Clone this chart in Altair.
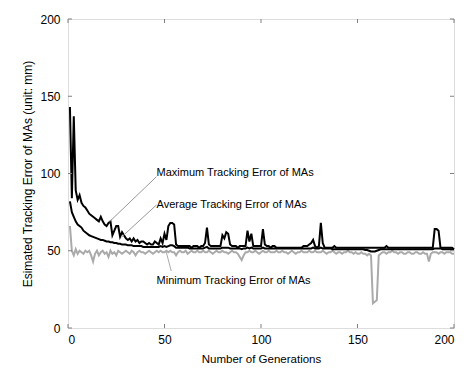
import altair as alt
import pandas as pd

gens = list(range(1, 201))

max_err = [
    143, 84, 137, 89, 83, 86, 81, 79, 78, 76,
    74, 73, 72, 71, 70, 69, 72, 69, 67, 66,
    68, 69, 60, 63, 66, 66, 59, 62, 60, 58,
    57, 58, 56, 58, 56, 57, 55, 56, 56, 55,
    54, 55, 54, 54, 56, 55, 54, 58, 55, 61,
    57, 66, 68, 68, 67, 54, 53, 53, 53, 53,
    53, 53, 53, 52, 53, 53, 53, 52, 53, 53,
    55, 65, 54, 53, 53, 53, 53, 53, 53, 60,
    58, 62, 61, 54, 53, 53, 53, 52, 53, 53,
    53, 53, 63, 56, 61, 53, 53, 53, 53, 53,
    64, 54, 53, 53, 52, 53, 53, 52, 52, 52,
    52, 52, 52, 52, 52, 52, 52, 52, 52, 52,
    52, 53, 53, 53, 54, 55, 57, 53, 52, 53,
    68, 55, 52, 52, 52, 52, 52, 53, 52, 52,
    52, 52, 52, 52, 52, 52, 52, 52, 52, 52,
    52, 52, 52, 52, 52, 52, 52, 52, 52, 52,
    52, 52, 52, 52, 53, 52, 52, 52, 52, 52,
    52, 52, 52, 52, 52, 52, 52, 52, 52, 52,
    52, 52, 52, 52, 52, 52, 52, 52, 52, 64,
    64, 63, 52, 52, 52, 52, 52, 52, 52, 51,
]

avg_err = [
    82, 75, 72, 69, 67, 66, 65, 63, 62, 61,
    60, 59.5, 59, 58.5, 58, 57.5, 57, 57, 56.5, 56,
    56, 55.5, 55.5, 55, 55, 54.5, 54.5, 54, 54, 54,
    53.5, 53.5, 53.5, 53, 53, 53, 53, 53, 52.5, 52.5,
    52.5, 52.5, 52.5, 52.5, 52.5, 52.5, 52.5, 53, 52.5, 53,
    52.5, 53, 53.5, 53.5, 53, 52, 52, 52, 52, 52,
    52, 52, 51.5, 51.5, 51.5, 51.5, 51.5, 51.5, 51.5, 51.5,
    52, 52.5, 51.5, 51.5, 51.5, 51.5, 51.5, 51.5, 51.5, 52,
    52, 52, 52, 51.5, 51.5, 51.5, 51.5, 51.5, 51.5, 51,
    51.5, 51.5, 52, 51.5, 52, 51.5, 51.5, 51.5, 51.5, 51.5,
    52, 51.5, 51.5, 51.5, 51.5, 51.5, 51.5, 51.5, 51.5, 51.5,
    51.5, 51.5, 51.5, 51.5, 51.5, 51.5, 51.5, 51.5, 51.5, 51.5,
    51.5, 51.5, 51.5, 51.5, 51.5, 51.5, 52, 51.5, 51.5, 51.5,
    52, 51.5, 51.5, 51.5, 51.5, 51.5, 51, 51, 51, 51,
    51, 51, 51, 51, 51, 51, 51, 51, 51, 51,
    51, 51, 51, 50.5, 50.5, 50, 49.5, 49.5, 49.5, 50,
    50.5, 51, 51, 51, 51, 51, 51, 51, 51, 51,
    51, 51, 51, 51, 51, 51, 51, 51, 51, 51,
    51, 51, 51, 51, 51, 51, 51, 51, 51, 51.5,
    51.5, 51.5, 51.5, 51, 51, 51, 51, 51, 51, 51,
]

min_err = [
    66, 50, 47, 51, 48, 50, 49, 48, 50, 49,
    50, 47, 43, 48, 50, 47, 49, 50, 48, 49,
    46, 50, 48, 49, 47, 50, 49, 48, 49, 50,
    49, 48, 50, 49, 47, 49, 50, 49, 49, 48,
    49, 50, 49, 48, 49, 50, 49, 50, 49, 49,
    50, 49, 50, 49, 49, 47, 49, 50, 49, 49,
    50, 48, 49, 50, 49, 49, 50, 49, 49, 50,
    49, 49, 50, 49, 48, 49, 50, 49, 49, 50,
    49, 49, 48, 49, 50, 49, 49, 48, 46, 44,
    47, 49, 49, 50, 49, 49, 50, 49, 48, 49,
    50, 49, 49, 50, 49, 49, 49, 50, 49, 49,
    50, 49, 49, 48, 49, 50, 49, 48, 49, 49,
    50, 49, 49, 49, 50, 49, 49, 50, 49, 49,
    49, 50, 49, 48, 49, 49, 50, 49, 48, 49,
    49, 48, 49, 49, 50, 49, 49, 48, 49, 48,
    48, 49, 48, 48, 47, 48, 47, 16, 17, 18,
    47, 48, 49, 49, 48, 49, 49, 50, 49, 49,
    48, 49, 49, 48, 48, 49, 49, 48, 48, 49,
    49, 48, 48, 49, 48, 48, 43, 48, 49, 49,
    49, 48, 49, 49, 48, 49, 49, 49, 48, 48,
]

tick_values = [0, 50, 100, 150, 200]

ann_labels = ["Maximum Tracking Error of MAs", "Average Tracking Error of MAs", "Minimum Tracking Error of MAs"]
ann_x = [45.9, 45.9, 45.9]
ann_y = [100.3, 79.6, 30.4]

lead_x = [45.8, 45.8, 50.9]
lead_y = [97.9, 79.6, 49.2]
lead_x2 = [21.5, 27.8, 53.5]
lead_y2 = [68.8, 58.9, 36.9]
lead_color = ["#999999", "#999999", "#aaaaaa"]

W, H = 386, 309
FONT = "Liberation Sans"

df = pd.DataFrame({"gen": gens, "maxv": max_err, "avgv": avg_err, "minv": min_err})
ticks = pd.DataFrame({"v": tick_values})
ann = pd.DataFrame({"x": ann_x, "y": ann_y, "t": ann_labels})
leads = pd.DataFrame({"x": lead_x, "y": lead_y, "x2": lead_x2, "y2": lead_y2, "c": lead_color})

xs = alt.Scale(domain=[0, 200], nice=False)
ys = alt.Scale(domain=[0, 200], nice=False)

xaxis = alt.Axis(values=tick_values, ticks=False, grid=False, domain=False, labelFont=FONT,
                 labelFontSize=12, labelColor="black", labelPadding=6, title="Number of Generations",
                 titleFont=FONT, titleFontSize=11.5, titleFontWeight="normal", titleColor="black", titlePadding=8)
yaxis = alt.Axis(values=tick_values, ticks=False, grid=False, domain=False, labelFont=FONT,
                 labelFontSize=12, labelColor="black", labelPadding=8, title="Esimated Tracking Error of MAs (unit: mm)",
                 titleFont=FONT, titleFontSize=12, titleFontWeight="normal", titleColor="black", titlePadding=5)


def X(f):
    return alt.X(f, scale=xs, axis=xaxis)


def Y(f):
    return alt.Y(f, scale=ys, axis=yaxis)


base = alt.Chart(df)
min_line = base.mark_line(color="#aaaaaa", strokeWidth=2).encode(x=X("gen:Q"), y=Y("minv:Q"))
avg_line = base.mark_line(color="black", strokeWidth=2).encode(x=X("gen:Q"), y=Y("avgv:Q"))
max_line = base.mark_line(color="black", strokeWidth=2).encode(x=X("gen:Q"), y=Y("maxv:Q"))

tb = alt.Chart(ticks).mark_rule(color="#808080", strokeWidth=1)
t_left = tb.encode(y=Y("v:Q"), x=alt.value(0), x2=alt.value(4))
t_right = tb.encode(y=Y("v:Q"), x=alt.value(W - 4), x2=alt.value(W))
t_bottom = tb.encode(x=X("v:Q"), y=alt.value(H - 4), y2=alt.value(H))
t_top = tb.encode(x=X("v:Q"), y=alt.value(0), y2=alt.value(4))

leader = alt.Chart(leads).mark_rule(strokeWidth=1).encode(
    x=X("x:Q"), y=Y("y:Q"), x2="x2:Q", y2="y2:Q",
    color=alt.Color("c:N", scale=None))

text = alt.Chart(ann).mark_text(align="left", baseline="middle", font=FONT, fontSize=11, color="black").encode(
    x=X("x:Q"), y=Y("y:Q"), text="t:N")

chart = alt.layer(min_line, avg_line, max_line, leader, text, t_left, t_right, t_bottom, t_top).properties(
    width=W, height=H,
    autosize=alt.AutoSizeParams(type="none"),
    padding={"left": 60, "top": 11, "right": 7, "bottom": 37},
).configure_view(stroke="#808080", strokeWidth=1).configure(background="white")

chart.save("out.html", embed_options={"renderer": "svg", "actions": False})
